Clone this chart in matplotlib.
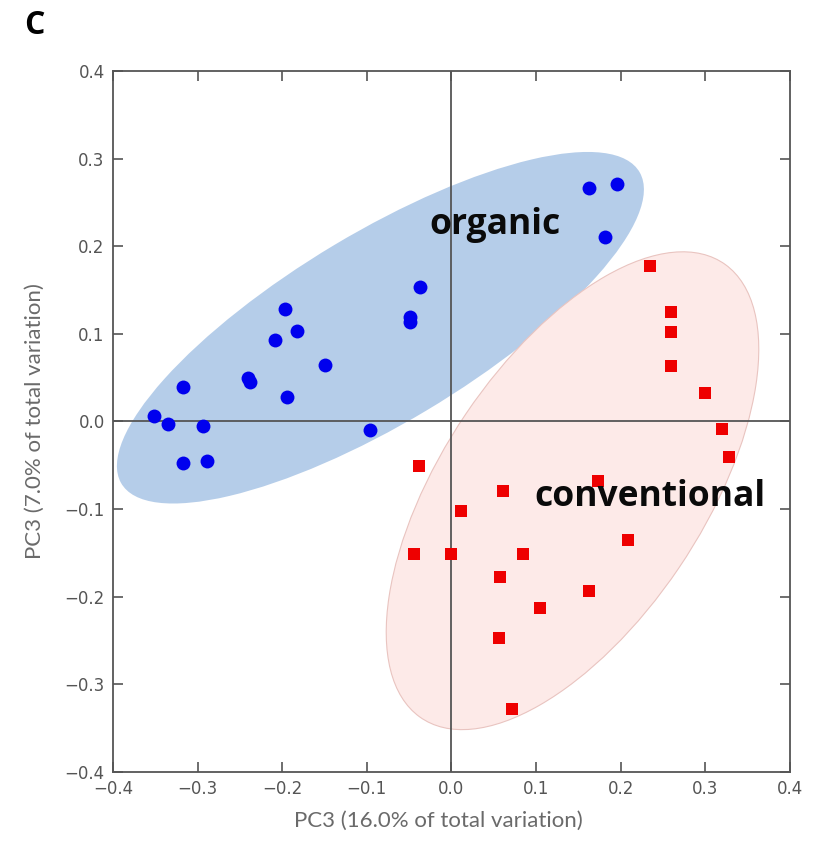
import matplotlib.pyplot as plt
from matplotlib.patches import Ellipse

plt.rcParams["axes.unicode_minus"] = True

# organic samples (blue circles)
org_x = [-0.037, -0.049, -0.049, -0.197, -0.183, -0.209, -0.149, -0.240, -0.238,
         -0.194, -0.317, -0.352, -0.335, -0.294, -0.096, -0.317, -0.289,
         0.163, 0.196, 0.181]
org_y = [0.154, 0.119, 0.114, 0.128, 0.103, 0.093, 0.064, 0.050, 0.045,
         0.028, 0.039, 0.006, -0.003, -0.005, -0.010, -0.047, -0.045,
         0.266, 0.271, 0.210]

# conventional samples (red squares)
conv_x = [0.234, 0.259, 0.259, 0.259, 0.300, 0.320, 0.328, -0.038, 0.173, 0.061,
          0.011, -0.044, -0.001, 0.084, 0.208, 0.057, 0.162, 0.105, 0.056, 0.072]
conv_y = [0.178, 0.125, 0.102, 0.063, 0.032, -0.008, -0.040, -0.051, -0.068, -0.079,
          -0.102, -0.151, -0.151, -0.151, -0.135, -0.177, -0.194, -0.213, -0.247, -0.328]

# confidence ellipses: center, width, height, angle
org_ell = ((-0.084, 0.107), 0.708, 0.218, 30)
conv_ell = ((0.143, -0.079), 0.630, 0.307, 55)

fig = plt.figure(figsize=(8.2, 8.44), dpi=100)
ax = fig.add_axes([0.1378, 0.0853, 0.8256, 0.8306])

(c, w, h, a) = org_ell
ax.add_patch(Ellipse(c, w, h, angle=a, facecolor="#b5cde9", edgecolor="none", zorder=1))
(c, w, h, a) = conv_ell
ax.add_patch(Ellipse(c, w, h, angle=a, facecolor="#fdeae8", edgecolor="#e9c4c0",
                     linewidth=0.8, zorder=1))

ax.axhline(0, color="#555555", lw=1.3, zorder=2)
ax.axvline(0, color="#555555", lw=1.3, zorder=2)

ax.plot(org_x, org_y, "o", color="#0000ee", markersize=10, markeredgewidth=0, zorder=3)
ax.plot(conv_x, conv_y, "s", color="#ee0000", markersize=8, markeredgewidth=0, zorder=3)

ax.text(0.051, 0.224, "organic", fontsize=25.5, fontweight="bold", family="Open Sans",
        ha="center", va="center", color="#0a0a0a", zorder=4)
ax.text(0.235, -0.086, "conventional", fontsize=25.5, fontweight="bold", family="Open Sans",
        ha="center", va="center", color="#0a0a0a", zorder=4)

ax.set_xlim(-0.4, 0.4)
ax.set_ylim(-0.4, 0.4)
ticks = [-0.4, -0.3, -0.2, -0.1, 0.0, 0.1, 0.2, 0.3, 0.4]
ax.set_xticks(ticks)
ax.set_yticks(ticks)
ax.set_xticklabels([f"{t:.1f}".replace("-", "\u2212") for t in ticks])
ax.set_yticklabels([f"{t:.1f}".replace("-", "\u2212") for t in ticks])
ax.tick_params(direction="in", top=True, right=True, length=7, width=1.2,
               color="#555555", labelcolor="#555555", labelsize=12, pad=6)
for s in ax.spines.values():
    s.set_color("#555555")
    s.set_linewidth(1.3)

ax.set_xlabel("PC3 (16.0% of total variation)", family="Lato", fontsize=16, color="#6a6a6a")
ax.set_ylabel("PC3 (7.0% of total variation)", family="Lato", fontsize=16, color="#6a6a6a")
ax.xaxis.set_label_coords(0.48, -0.055)
ax.yaxis.set_label_coords(-0.1, 0.5)

fig.text(0.03, 0.97, "C", fontsize=23, fontweight="bold", family="Open Sans", va="center")

fig.savefig("out.png", dpi=100)
